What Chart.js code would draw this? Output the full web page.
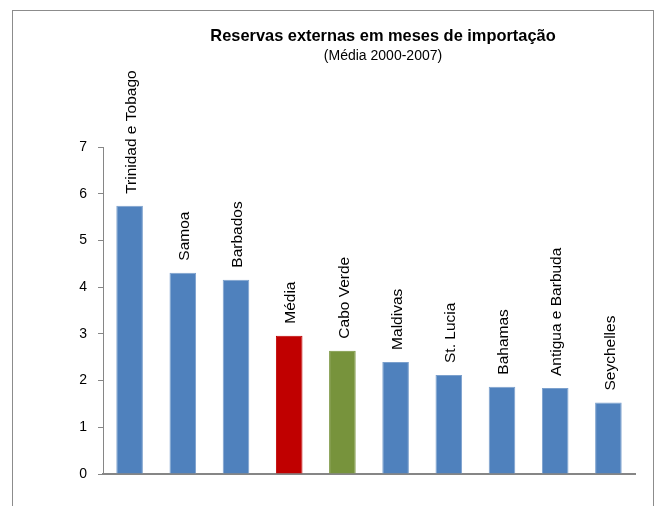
<!DOCTYPE html>
<html>
<head>
<meta charset="utf-8">
<script src="https://cdn.jsdelivr.net/npm/chart.js@4"></script>
<style>
  body { margin: 0; background: #fff; }
  #wrap { position: relative; width: 657px; height: 506px; }
  #frame { position: absolute; left: 12px; top: 10px; width: 640px; height: 520px; border: 1px solid #8c8c8c; }
  canvas { position: absolute; left: 0; top: 0; }
</style>
</head>
<body>
<div id="wrap">
  <div id="frame"></div>
  <canvas id="chart" width="657" height="506"></canvas>
</div>
<script>
const countries = ['Trinidad e Tobago', 'Samoa', 'Barbados', 'Média', 'Cabo Verde', 'Maldivas', 'St. Lucia', 'Bahamas', 'Antigua e Barbuda', 'Seychelles'];
const months = [5.74, 4.31, 4.16, 2.96, 2.64, 2.40, 2.12, 1.87, 1.84, 1.53];
const barColors = ['#4F81BD', '#4F81BD', '#4F81BD', '#C00000', '#77933C', '#4F81BD', '#4F81BD', '#4F81BD', '#4F81BD', '#4F81BD'];
const yTicks = [0, 1, 2, 3, 4, 5, 6, 7];

const titleText = 'Reservas externas em meses de importação';
const subtitleText = '(Média 2000-2007)';

// names written vertically above each bar, plus the heading
const barLabels = {
  id: 'barLabels',
  afterDatasetsDraw(chart) {
    const ctx = chart.ctx;
    const meta = chart.getDatasetMeta(0);
    ctx.save();
    ctx.fillStyle = '#000';
    ctx.font = '15.5px "Liberation Sans", Arial, sans-serif';
    ctx.textAlign = 'left';
    ctx.textBaseline = 'middle';
    meta.data.forEach((bar, i) => {
      ctx.save();
      ctx.translate(bar.x + 2, bar.y - 12);
      ctx.rotate(-Math.PI / 2);
      ctx.fillText(countries[i], 0, 0);
      ctx.restore();
    });

    ctx.textAlign = 'center';
    ctx.textBaseline = 'alphabetic';
    ctx.font = 'bold 16.4px "Liberation Sans", Arial, sans-serif';
    ctx.fillText(titleText, 383, 41);
    ctx.font = '14px "Liberation Sans", Arial, sans-serif';
    ctx.fillText(subtitleText, 383, 60);
    ctx.restore();
  }
};

new Chart(document.getElementById('chart'), {
  type: 'bar',
  data: {
    labels: countries,
    datasets: [{
      data: months,
      backgroundColor: barColors,
      borderColor: barColors.map(c => c === '#4F81BD' ? '#7BA0CD' : c),
      borderWidth: 1,
      barPercentage: 0.5,
      categoryPercentage: 1
    }]
  },
  options: {
    responsive: false,
    animation: false,
    layout: { padding: { left: 60, right: 22, top: 147, bottom: 24 } },
    plugins: {
      legend: { display: false },
      tooltip: { enabled: false }
    },
    scales: {
      x: {
        ticks: { display: false },
        grid: { display: false },
        border: { color: '#868686', width: 2 }
      },
      y: {
        min: 0,
        max: 7,
        afterFit(scale) { scale.width = 43; },
        afterBuildTicks(scale) { scale.ticks = yTicks.map(v => ({ value: v })); },
        ticks: {
          color: '#000',
          padding: 11,
          font: { size: 14, family: '"Liberation Sans", Arial, sans-serif' }
        },
        grid: { drawOnChartArea: false, tickLength: 5, color: '#868686' },
        border: { color: '#868686', width: 1 }
      }
    }
  },
  plugins: [barLabels]
});
</script>
</body>
</html>
